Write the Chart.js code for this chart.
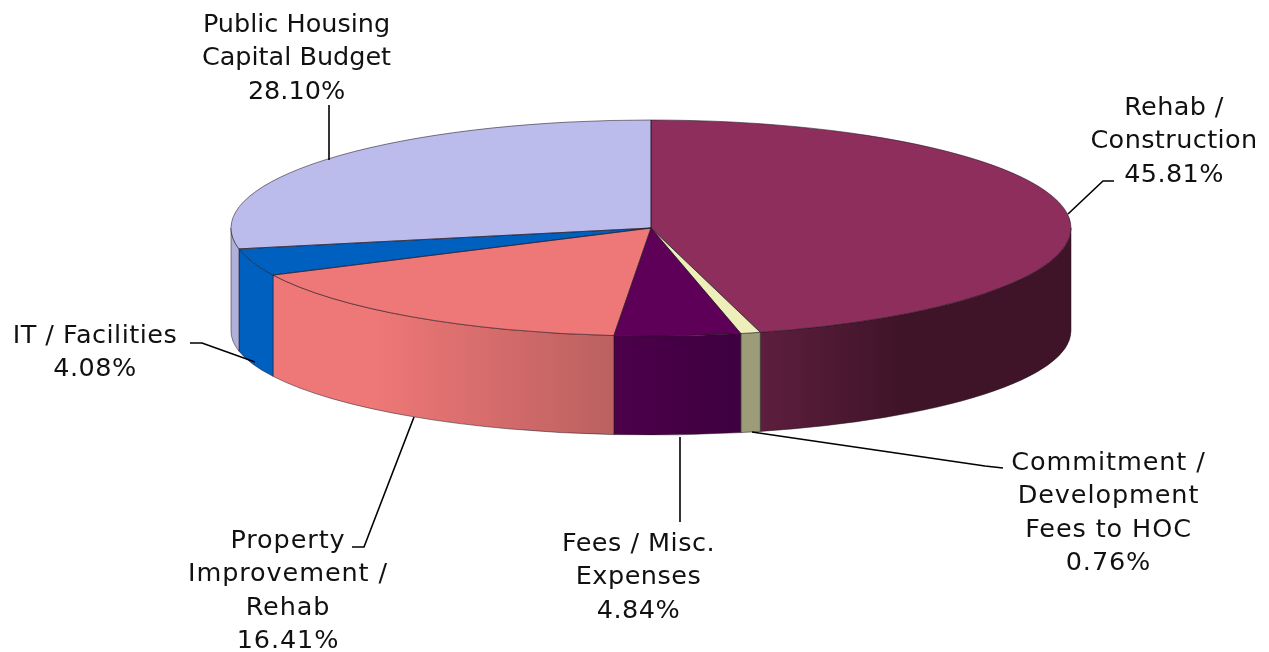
<!DOCTYPE html>
<html><head><meta charset="utf-8">
<style>html,body{margin:0;padding:0;background:#fff}canvas{display:block}</style>
<script src="https://cdn.jsdelivr.net/npm/chart.js@4"></script>
</head><body>
<canvas id="c" width="1269" height="652"></canvas>
<script>
const categories = ['Rehab / Construction','Commitment / Development Fees to HOC','Fees / Misc. Expenses','Property Improvement / Rehab','IT / Facilities','Public Housing Capital Budget'];
const shares = [45.81,0.76,4.84,16.41,4.08,28.10];
const topColors = ['#8E2E5C','#EEEEBB','#5E0058','#EE7777','#0060C0','#BCBCEC'];
const wallLeft = ['#5E1E3E','#9C9C78','#4C004A','#EE7777','#0060C0','#B0B0DC'];
const wallRight = ['#3F1428','#9C9C78','#3E0040','#BC6060','#0060C0','#B0B0DC'];
const wallStops = [[0,0.45],[0,1],[0,1],[0.3,1],[0,1],[0,1]];

const labelLines = [
  ['Rehab /','Construction','45.81%'],
  ['Commitment /','Development','Fees to HOC','0.76%'],
  ['Fees / Misc.','Expenses','4.84%'],
  ['Property','Improvement /','Rehab','16.41%'],
  ['IT / Facilities','4.08%'],
  ['Public Housing','Capital Budget','28.10%']
];
const labelAnchor = [[1174,115],[1108.5,470],[638.5,551],[288,548],[95,343],[296.5,32]];
const labelSpacing = [0.4,0.9,0.5,0.9,0.5,0];
const leaders = [
  [[1068,214],[1103,181],[1114,181]],
  [[752,432],[985,466],[1003,468]],
  [[680,437],[680,522]],
  [[414,417],[364,547],[352,547]],
  [[190,343],[202,343],[255,362]],
  [[329,160],[329,105]]
];
const RX = 420, RY = 108, RY_BOTTOM = 104, DEPTH = 103;

function flatten(ctx, a){
  const sx = RX/a.outerRadius, sy = RY/a.outerRadius;
  ctx.translate(a.x,a.y); ctx.scale(sx,sy); ctx.translate(-a.x,-a.y);
}
const pt = (a,t)=>[a.x+RX*Math.cos(t), a.y+RY*Math.sin(t)];

const pie3d = {
  id:'pie3d',
  beforeDatasetDraw(chart){
    const ctx = chart.ctx, arcs = chart.getDatasetMeta(0).data;
    arcs.forEach((a,i)=>{
      const s = Math.max(a.startAngle,0), e = Math.min(a.endAngle,Math.PI);
      if(e<=s) return;
      const p0 = pt(a,s), p1 = pt(a,e);
      const g = ctx.createLinearGradient(Math.min(p0[0],p1[0]),0,Math.max(p0[0],p1[0]),0);
      g.addColorStop(wallStops[i][0],wallLeft[i]);
      g.addColorStop(wallStops[i][1],wallRight[i]);
      ctx.fillStyle = g;
      ctx.beginPath();
      ctx.ellipse(a.x,a.y,RX,RY,0,s,e);
      ctx.ellipse(a.x,a.y+DEPTH,RX,RY_BOTTOM,0,e,s,true);
      ctx.closePath();
      ctx.fill();
      ctx.strokeStyle='rgba(30,20,30,0.5)'; ctx.lineWidth=1; ctx.stroke();
    });
    ctx.save();
    flatten(ctx,arcs[0]);
  },
  afterDatasetDraw(chart){
    const ctx = chart.ctx, arcs = chart.getDatasetMeta(0).data;
    ctx.restore();
    ctx.strokeStyle='rgba(30,20,30,0.55)'; ctx.lineWidth=1;
    arcs.forEach(a=>{
      ctx.beginPath();
      ctx.moveTo(a.x,a.y);
      ctx.ellipse(a.x,a.y,RX,RY,0,a.startAngle,a.endAngle);
      ctx.closePath();
      ctx.stroke();
    });
  },
  afterDraw(chart){
    const ctx = chart.ctx;
    ctx.save();
    ctx.strokeStyle='#000'; ctx.lineWidth=1.6;
    leaders.forEach(l=>{
      ctx.beginPath();
      l.forEach((p,i)=> i?ctx.lineTo(p[0],p[1]):ctx.moveTo(p[0],p[1]));
      ctx.stroke();
    });
    ctx.fillStyle='#111';
    ctx.font='25.5px "DejaVu Sans"';
    ctx.textAlign='center'; ctx.textBaseline='alphabetic';
    labelLines.forEach((lines,i)=>{
      ctx.letterSpacing = labelSpacing[i]+'px';
      lines.forEach((t,j)=>ctx.fillText(t,labelAnchor[i][0],labelAnchor[i][1]+j*33.4));
    });
    ctx.restore();
  }
};

new Chart(document.getElementById('c'),{
  type:'pie',
  data:{labels:categories,datasets:[{data:shares,backgroundColor:topColors,borderWidth:0}]},
  options:{
    responsive:false,animation:false,
    layout:{padding:{left:33,right:0,top:0,bottom:196}},
    plugins:{legend:{display:false},tooltip:{enabled:false},title:{display:false}}
  },
  plugins:[pie3d]
});
</script>
</body></html>
